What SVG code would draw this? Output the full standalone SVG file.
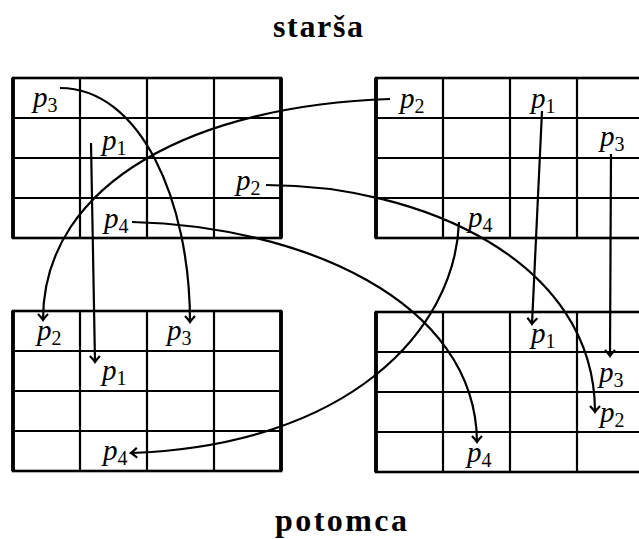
<svg xmlns="http://www.w3.org/2000/svg" width="639" height="539" viewBox="0 0 639 539">
<style>
.cell{fill:none;stroke:#000;stroke-width:2.2}
.edge{fill:none;stroke:#000;stroke-width:2.6}
.side{stroke:#000;stroke-width:3.8}
.lbl{font-family:"Liberation Serif",serif;font-style:italic;font-size:29px;fill:#000}
.sub{font-style:normal;font-size:20px}
.ttl{font-family:"Liberation Serif",serif;font-weight:bold;font-size:32px;fill:#000}
.con{fill:none;stroke:#000;stroke-width:2.2}
</style>
<defs>
<marker id="arr" viewBox="-8 -7 10 14" refX="0" refY="0" markerWidth="10" markerHeight="14" orient="auto" markerUnits="userSpaceOnUse">
<path d="M-6,-5 Q-2,-1.2 0,0 Q-2,1.2 -6,5" fill="none" stroke="#000" stroke-width="2.2"/>
</marker>
<g id="grid">
<path class="cell" d="M67,0V160M134,0V160M201,0V160M0,40H268M0,80H268M0,120H268"/>
<rect class="edge" x="0" y="0" width="268" height="160"/>
<path class="side" d="M0,0V160M268,0V160"/>
</g>
</defs>

<text class="ttl" x="318" y="37" text-anchor="middle" textLength="90" lengthAdjust="spacing">starša</text>
<text class="ttl" x="341" y="531" text-anchor="middle" textLength="132" lengthAdjust="spacing">potomca</text>

<g id="parent1">
<use href="#grid" x="13" y="78"/>
<text class="lbl" x="33" y="107">p<tspan class="sub" dy="5">3</tspan></text>
<text class="lbl" x="102" y="150">p<tspan class="sub" dy="5">1</tspan></text>
<text class="lbl" x="236" y="190">p<tspan class="sub" dy="5">2</tspan></text>
<text class="lbl" x="104" y="228">p<tspan class="sub" dy="5">4</tspan></text>
</g>

<g id="parent2">
<use href="#grid" x="376" y="78"/>
<text class="lbl" x="400" y="108">p<tspan class="sub" dy="5">2</tspan></text>
<text class="lbl" x="531" y="108">p<tspan class="sub" dy="5">1</tspan></text>
<text class="lbl" x="600" y="146">p<tspan class="sub" dy="5">3</tspan></text>
<text class="lbl" x="468" y="227">p<tspan class="sub" dy="5">4</tspan></text>
</g>

<g id="child1">
<use href="#grid" x="13" y="311"/>
<text class="lbl" x="37" y="340">p<tspan class="sub" dy="5">2</tspan></text>
<text class="lbl" x="167" y="340">p<tspan class="sub" dy="5">3</tspan></text>
<text class="lbl" x="102" y="380">p<tspan class="sub" dy="5">1</tspan></text>
<text class="lbl" x="103" y="460">p<tspan class="sub" dy="5">4</tspan></text>
</g>

<g id="child2">
<use href="#grid" x="376" y="312"/>
<text class="lbl" x="531" y="343">p<tspan class="sub" dy="5">1</tspan></text>
<text class="lbl" x="599" y="382">p<tspan class="sub" dy="5">3</tspan></text>
<text class="lbl" x="600" y="422">p<tspan class="sub" dy="5">2</tspan></text>
<text class="lbl" x="467" y="462">p<tspan class="sub" dy="5">4</tspan></text>
</g>

<g id="connectors">
<path class="con" marker-end="url(#arr)" d="M60,88 C140,88 190,200 190,322"/>
<path class="con" marker-end="url(#arr)" d="M91,143 L95,362"/>
<path class="con" marker-end="url(#arr)" d="M390,99 C200,105 43,180 43,320"/>
<path class="con" marker-end="url(#arr)" d="M266,185 C420,185 595,260 595,412"/>
<path class="con" marker-end="url(#arr)" d="M132,222 C300,226 476,300 477,442"/>
<path class="con" marker-end="url(#arr)" d="M459,222 C455,330 350,445 131,453"/>
<path class="con" marker-end="url(#arr)" d="M542,111 L532,324"/>
<path class="con" marker-end="url(#arr)" d="M611,154 L610,356"/>
</g>
</svg>
